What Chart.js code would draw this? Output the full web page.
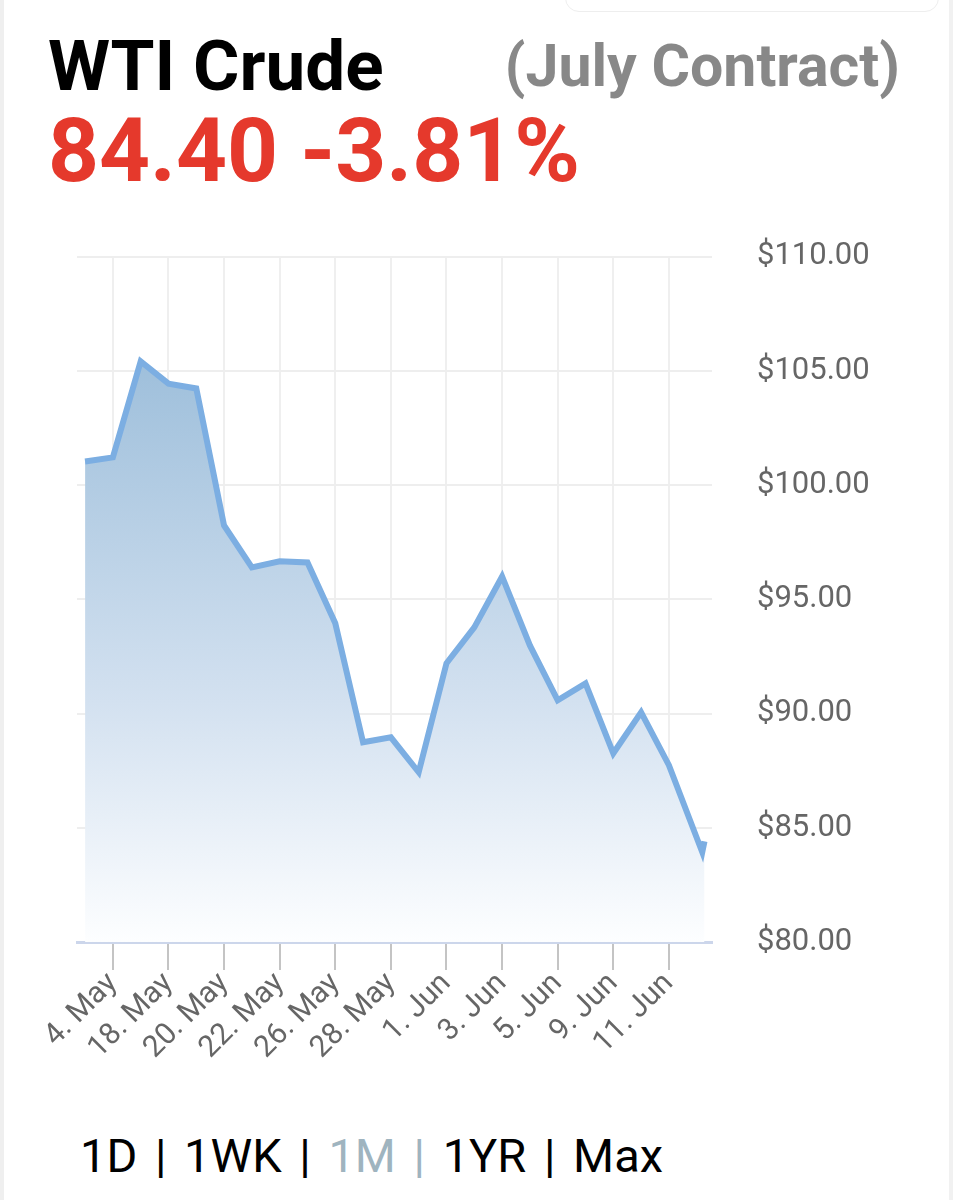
<!DOCTYPE html>
<html>
<head>
<meta charset="utf-8">
<script src="https://cdn.jsdelivr.net/npm/chart.js@4.4.1/dist/chart.umd.min.js"></script>
<style>
  body { margin: 0; background: #fff; font-family: Roboto, sans-serif; }
  #page { position: relative; width: 953px; height: 1200px; overflow: hidden; }
  .txt { position: absolute; line-height: 1; white-space: nowrap; }
  #title { left: 48px; top: 30px; font-size: 71px; font-weight: bold; color: #000; }
  #sub { right: 53px; top: 36px; font-size: 59px; font-weight: bold; color: #888; }
  #quote { left: 48px; top: 106px; font-size: 89px; font-weight: bold; color: #e5392c; }
  #nav { left: 80px; top: 1132px; font-size: 47px; word-spacing: 6px; color: #000; }
  #nav .on { color: #9fb4bf; }
  #wrap { position: absolute; left: 0; top: 193px; width: 953px; height: 900px; }
  #edgeL { position: absolute; left: 0; top: 0; width: 4px; height: 1200px; background: #efefef; }
  #edgeR { position: absolute; left: 949px; top: 0; width: 4px; height: 1200px; background: #f1f1f1; }
  #tab { position: absolute; left: 565px; top: -20px; width: 372px; height: 30px; border: 1px solid #eee; border-radius: 14px; }
</style>
</head>
<body>
<div id="page">
  <div id="edgeL"></div>
  <div id="edgeR"></div>
  <div id="tab"></div>
  <div id="title" class="txt">WTI Crude</div>
  <div id="sub" class="txt">(July Contract)</div>
  <div id="quote" class="txt">84.40 -3.81%</div>
  <div id="wrap"><canvas id="mycanvas"></canvas></div>
  <div id="nav" class="txt">1D | 1WK | <span class="on">1M |</span> 1YR | Max</div>
</div>
<script>
// ordinal position of each quote on the time axis (last two are intraday)
var pointPos = [0, 1, 2, 3, 4, 5, 6, 7, 8, 9, 10, 11, 12, 13, 14, 15, 16, 17, 18, 19, 20, 21, 22.2, 22.28];
var prices = [101.03, 101.21, 105.41, 104.44, 104.23, 98.23, 96.40, 96.66, 96.61, 93.95, 88.74, 88.96,
              87.43, 92.20, 93.77, 96.00, 92.98, 90.58, 91.32, 88.26, 90.05, 87.74, 83.93, 84.40];

var tickPos = [1, 3, 5, 7, 9, 11, 13, 15, 17, 19, 21];
var tickLabels = ["4. May", "18. May", "20. May", "22. May", "26. May", "28. May",
                  "1. Jun", "3. Jun", "5. Jun", "9. Jun", "11. Jun"];

var priceTicks = [80, 85, 90, 95, 100, 105, 110];

var points = [];
for (var i in prices) {
  points.push({x: pointPos[i], y: prices[i]});
}

function areaFill(context) {
  var area = context.chart.chartArea;
  if (!area) return 'rgba(150,185,215,0.6)';
  var g = context.chart.ctx.createLinearGradient(0, area.top, 0, area.bottom);
  g.addColorStop(0, '#92b4d3');
  g.addColorStop(0.15, '#9ebfdb');
  g.addColorStop(0.65, '#d3e1f0');
  g.addColorStop(1, '#fdfeff');
  return g;
}

var ctx = document.getElementById('mycanvas');

var LineGraph = new Chart(ctx, {
  type: 'line',
  data: {
    datasets: [{
      label: 'WTI Crude',
      data: points,
      borderColor: '#7caee2',
      borderWidth: 6,
      borderJoinStyle: 'miter',
      backgroundColor: areaFill,
      fill: 'start',
      pointRadius: 0,
      tension: 0
    }]
  },
  options: {
    responsive: true,
    maintainAspectRatio: false,
    animation: false,
    layout: { padding: { left: 77, top: 49, right: 0, bottom: 0 } },
    plugins: { legend: { display: false }, tooltip: { enabled: false } },
    scales: {
      x: {
        type: 'linear',
        min: -0.29,
        max: 22.55,
        afterBuildTicks: function(axis) {
          axis.ticks = tickPos.map(function(v){ return {value: v}; });
        },
        afterFit: function(axis) { axis.height = 151; },
        grid: { color: '#efefef', lineWidth: 2, tickColor: '#c4c4c4', tickLength: 28, tickWidth: 2 },
        border: { color: '#ccd6eb', width: 3 },
        ticks: {
          minRotation: 45, maxRotation: 45, padding: -4, autoSkip: false,
          color: '#666', font: { family: 'Roboto', size: 30 },
          callback: function(v) { return tickLabels[tickPos.indexOf(v)]; }
        }
      },
      y: {
        position: 'right',
        min: 80,
        max: 110,
        afterBuildTicks: function(axis) {
          axis.ticks = priceTicks.map(function(v){ return {value: v}; });
        },
        afterFit: function(axis) { axis.width = 241; },
        grid: { color: '#eeeeee', lineWidth: 2, drawTicks: false },
        border: { display: false },
        ticks: {
          padding: 45, color: '#666', font: { family: 'Roboto', size: 31 },
          callback: function(v) { return '$' + v.toFixed(2); }
        }
      }
    }
  }
});
</script>
</body>
</html>
